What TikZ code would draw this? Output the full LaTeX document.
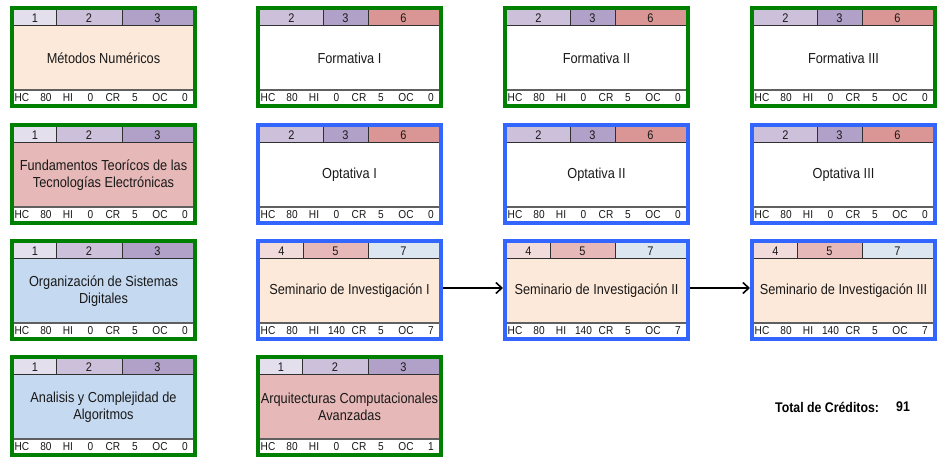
\documentclass[tikz,border=0pt]{standalone}
\usepackage{fontspec}
\setmainfont{Liberation Sans}[FakeStretch=0.88]
\usetikzlibrary{arrows.meta}
\definecolor{gborder}{RGB}{0,128,0}
\definecolor{bborder}{RGB}{51,102,255}
\definecolor{hone}{HTML}{E4DFEC}
\definecolor{htwo}{HTML}{CCC0DA}
\definecolor{hthree}{HTML}{B1A0C7}
\definecolor{hsix}{HTML}{DA9694}
\definecolor{hfour}{HTML}{F2DCDB}
\definecolor{hfive}{HTML}{E6B8B7}
\definecolor{hseven}{HTML}{DCE6F1}
\definecolor{peach}{HTML}{FDE9D9}
\definecolor{pinkb}{HTML}{E6B8B7}
\definecolor{blueb}{HTML}{C5D9F1}
\definecolor{hdrline}{HTML}{303030}
\definecolor{ftline}{HTML}{606060}
\tikzset{
  bodytext/.style={font=\fontsize{14.5}{17}\selectfont, align=center, inner sep=0pt, text=black!90},
  hdrtext/.style={font=\fontsize{12.5}{14}\selectfont, inner sep=0pt, text=black!90},
  fttext/.style={font=\fontsize{11.5}{13}\selectfont, inner sep=0pt, text=black!90},
  hline/.style={draw=hdrline, line width=0.9pt},
  fline/.style={draw=ftline, line width=2pt},
  coursebox/.style={line width=4pt, minimum width=183pt, minimum height=98pt, inner sep=0pt},
  flow/.style={draw=black, line width=1.2pt, -{Straight Barb[length=6pt,width=11pt,line width=1.6pt]}}
}
% #1 name, #2 divider1, #3/#4/#5 colours, #6 #7 #8 labels
\newcommand\hdrcells[8]{%
  \fill[#3] (4,4) rectangle (#2,19);
  \fill[#4] (#2,4) rectangle (112,19);
  \fill[#5] (112,4) rectangle (183,19);
  \draw[hline] (#2,4) -- (#2,19);
  \draw[hline] (112,4) -- (112,19);
  \node[hdrtext] (#1-ha) at ({(4+#2)/2},12) {#6};
  \node[hdrtext] (#1-hb) at ({(#2+112)/2},12) {#7};
  \node[hdrtext] (#1-hc) at (147.5,12) {#8};
}
\newcommand\hdrA[1]{\hdrcells{#1}{46}{hone}{htwo}{hthree}{1}{2}{3}}
\newcommand\hdrB[1]{\hdrcells{#1}{67}{htwo}{hthree}{hsix}{2}{3}{6}}
\newcommand\hdrC[1]{\hdrcells{#1}{47}{hfour}{hfive}{hseven}{4}{5}{7}}
% #1 name, #2 x, #3 y, #4 border colour, #5 header macro, #6 body fill, #7 text, #8 HI, #9 OC
\newcommand\course[9]{%
  \begin{scope}[shift={(#2,#3)}]
    \fill[#6] (4,19) rectangle (183,84);
    \fill[white] (4,84) rectangle (183,98);
    #5{#1}
    \draw[hline] (4,19) -- (183,19);
    \draw[fline] (4,84) -- (183,84);
    \node[bodytext] (#1-t) at (93.5,52) {#7};
    \node[fttext] (#1-f1) at (12,91.5) {HC};
    \node[fttext] (#1-f2) at (36,91.5) {80};
    \node[fttext] (#1-f3) at (58,91.5) {HI};
    \node[fttext] (#1-f4) at (80.5,91.5) {#8};
    \node[fttext] (#1-f5) at (103,91.5) {CR};
    \node[fttext] (#1-f6) at (125,91.5) {5};
    \node[fttext] (#1-f7) at (150,91.5) {OC};
    \node[fttext] (#1-f8) at (175,91.5) {#9};
    \node[coursebox, draw=#4] (#1) at (93.5,51) {};
  \end{scope}
}
\begin{document}
\begin{tikzpicture}[x=1pt, y=-1pt]
\useasboundingbox (0,0) rectangle (940,457);
% row 1
\course{mn}{10}{6}{gborder}{\hdrA}{peach}{Métodos Numéricos}{0}{0}
\course{fa}{256}{6}{gborder}{\hdrB}{white}{Formativa I}{0}{0}
\course{fb}{503}{6}{gborder}{\hdrB}{white}{Formativa II}{0}{0}
\course{fc}{750}{6}{gborder}{\hdrB}{white}{Formativa III}{0}{0}
% row 2
\course{ft}{10}{123}{gborder}{\hdrA}{pinkb}{Fundamentos Teorícos de las\\Tecnologías Electrónicas}{0}{0}
\course{oa}{256}{123}{bborder}{\hdrB}{white}{Optativa I}{0}{0}
\course{ob}{503}{123}{bborder}{\hdrB}{white}{Optativa II}{0}{0}
\course{oc}{750}{123}{bborder}{\hdrB}{white}{Optativa III}{0}{0}
% row 3
\course{os}{10}{239}{gborder}{\hdrA}{blueb}{Organización de Sistemas\\Digitales}{0}{0}
\course{sa}{256}{239}{bborder}{\hdrC}{peach}{Seminario de Investigación I}{140}{7}
\course{sb}{503}{239}{bborder}{\hdrC}{peach}{Seminario de Investigación II}{140}{7}
\course{sc}{750}{239}{bborder}{\hdrC}{peach}{Seminario de Investigación III}{140}{7}
% row 4
\course{ac}{10}{355}{gborder}{\hdrA}{blueb}{Analisis y Complejidad de\\Algoritmos}{0}{0}
\course{aq}{256}{355}{gborder}{\hdrA}{pinkb}{Arquitecturas Computacionales\\Avanzadas}{0}{1}
% arrows
\draw[flow] ([yshift=2pt]sa.east) -- ([yshift=2pt]sb.west);
\draw[flow] ([yshift=2pt]sb.east) -- ([yshift=2pt]sc.west);
% total
\node[font=\bfseries\fontsize{14}{16}\selectfont, anchor=west, inner sep=0pt] (tot) at (775,407) {Total de Créditos:};
\node[font=\bfseries\fontsize{14}{16}\selectfont, anchor=west, inner sep=0pt] (totv) at (896,407) {91};
\end{tikzpicture}
\end{document}
